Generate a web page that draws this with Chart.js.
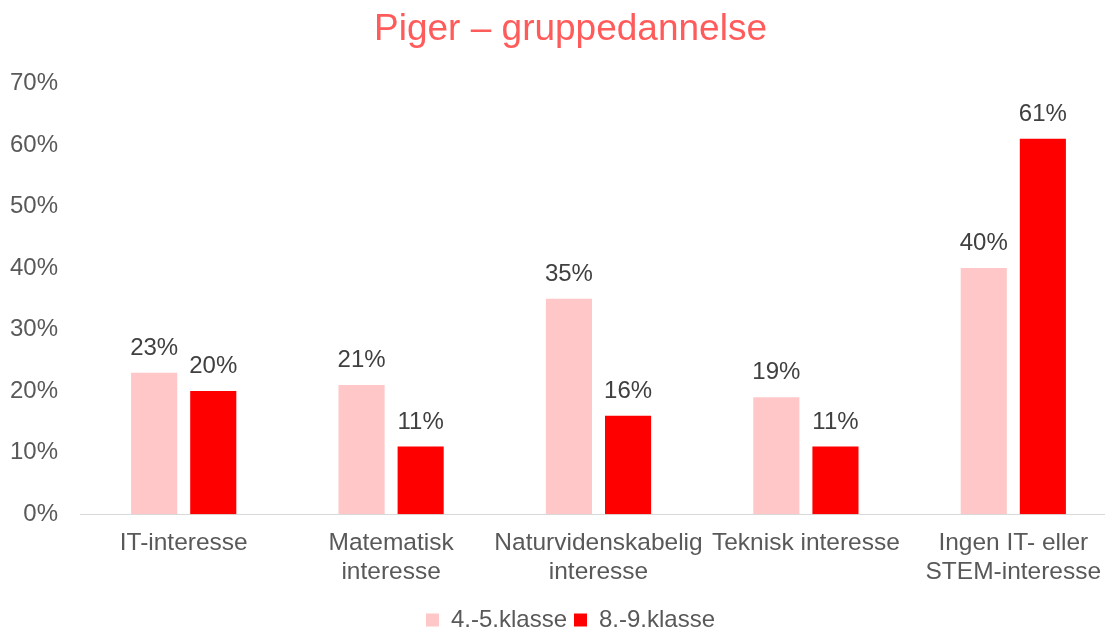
<!DOCTYPE html>
<html>
<head>
<meta charset="utf-8">
<script src="https://cdn.jsdelivr.net/npm/chart.js@4.4.0/dist/chart.umd.min.js"></script>
<style>
  html, body { margin: 0; padding: 0; background: #fff; overflow: hidden; }
  #wrap { width: 1120px; height: 628px; }
</style>
</head>
<body>
<div id="wrap"><canvas id="chart"></canvas></div>
<script>
// categories and values (percent)
const categories = [
    'IT-interesse',
    ['Matematisk', 'interesse'],
    ['Naturvidenskabelig', 'interesse'],
    'Teknisk interesse',
    ['Ingen IT- eller', 'STEM-interesse']
];
const seriesNames = ['4.-5.klasse', '8.-9.klasse'];
const klasse45 = [23, 21, 35, 19, 40];
const klasse89 = [20, 11, 16, 11, 61];
const yTicks = [0, 10, 20, 30, 40, 50, 60, 70];

const font = 'Liberation Sans, Arial, sans-serif';

// draw value labels above bars
const valueLabels = {
    id: 'valueLabels',
    afterDatasetsDraw(chart) {
        const ctx = chart.ctx;
        ctx.save();
        ctx.font = '24px ' + font;
        ctx.fillStyle = '#404040';
        ctx.textAlign = 'center';
        ctx.textBaseline = 'alphabetic';
        chart.data.datasets.forEach((ds, i) => {
            chart.getDatasetMeta(i).data.forEach((bar, j) => {
                ctx.fillText(ds.data[j] + '%', bar.x, bar.y - 18);
            });
        });
        ctx.restore();
    }
};

new Chart(document.getElementById('chart'), {
    type: 'bar',
    data: {
        labels: categories,
        datasets: [
            { label: seriesNames[0], data: klasse45, backgroundColor: '#ffc7c7' },
            { label: seriesNames[1], data: klasse89, backgroundColor: '#ff0000' }
        ]
    },
    options: {
        responsive: true,
        maintainAspectRatio: false,
        animation: false,
        layout: { padding: { left: 24, right: 3, top: 0, bottom: -14 } },
        datasets: {
            bar: { categoryPercentage: 0.57, barPercentage: 0.78 }
        },
        plugins: {
            title: {
                display: true,
                text: 'Piger – gruppedannelse',
                color: '#ff5b5b',
                font: { family: font, size: 37, weight: 'normal', lineHeight: 1.2 },
                padding: { top: 8, bottom: 31 }
            },
            legend: {
                position: 'bottom',
                // empty title only used as a spacer above the items
                title: { display: true, text: '', padding: 0, font: { size: 8, lineHeight: 1 } },
                labels: {
                    color: '#595959',
                    font: { family: font, size: 24 },
                    boxWidth: 13,
                    boxHeight: 13,
                    padding: 7
                }
            },
            tooltip: { enabled: false }
        },
        scales: {
            x: {
                grid: { display: false },
                border: { display: true, color: '#d9d9d9', width: 1 },
                ticks: {
                    color: '#595959',
                    font: { family: font, size: 24.5, lineHeight: 1.2 },
                    maxRotation: 0,
                    autoSkip: false,
                    padding: 6
                }
            },
            y: {
                min: 0,
                max: 70,
                afterFit(scale) {
                    scale.width = 56;
                    // labels reach past the narrow axis box, so don't clip them
                    scale._computeLabelArea = () => undefined;
                },
                afterBuildTicks(scale) { scale.ticks = yTicks.map(v => ({ value: v })); },
                grid: { display: false },
                border: { display: false },
                ticks: {
                    color: '#595959',
                    font: { family: font, size: 24 },
                    padding: 14,
                    callback: v => v + '%'
                }
            }
        }
    },
    plugins: [valueLabels]
});
</script>
</body>
</html>
